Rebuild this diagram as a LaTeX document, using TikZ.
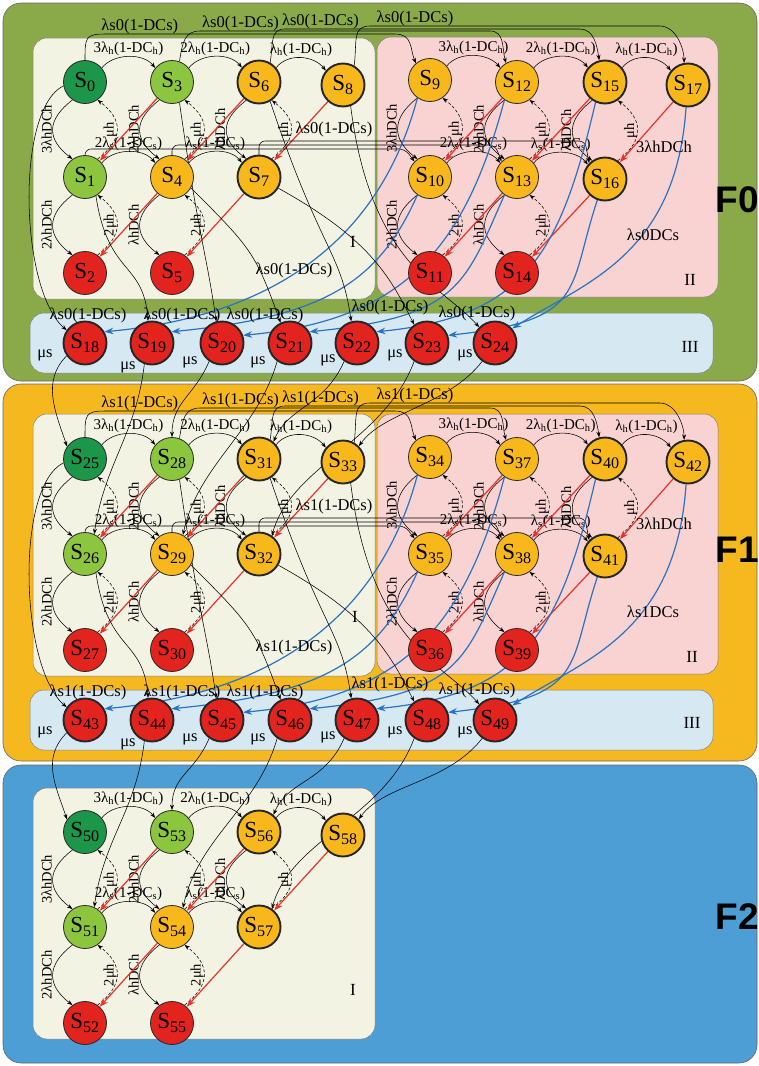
\documentclass[tikz,border=0pt]{standalone}
\usepackage{fontspec}
\setmainfont{Liberation Serif}
\newfontfamily\fsans{Liberation Sans}
\usetikzlibrary{arrows.meta}
\pgfdeclarelayer{bg}
\pgfdeclarelayer{edges}
\pgfsetlayers{bg,edges,main}
\definecolor{pgreen}{RGB}{138,170,74}
\definecolor{porange}{RGB}{245,184,30}
\definecolor{pblue}{RGB}{76,158,212}
\definecolor{bcream}{RGB}{243,243,228}
\definecolor{bpink}{RGB}{249,210,210}
\definecolor{blight}{RGB}{214,233,242}
\definecolor{ndg}{RGB}{28,150,72}
\definecolor{nlg}{RGB}{140,198,63}
\definecolor{nor}{RGB}{248,184,28}
\definecolor{nrd}{RGB}{226,35,30}
\definecolor{ered}{RGB}{235,50,40}
\definecolor{eblue}{RGB}{40,115,195}

\newcommand\setn[1]{%
 \edef\nA{\the\numexpr#1+0\relax}\edef\nB{\the\numexpr#1+1\relax}\edef\nC{\the\numexpr#1+2\relax}%
 \edef\nD{\the\numexpr#1+3\relax}\edef\nE{\the\numexpr#1+4\relax}\edef\nF{\the\numexpr#1+5\relax}%
 \edef\nG{\the\numexpr#1+6\relax}\edef\nH{\the\numexpr#1+7\relax}\edef\nI{\the\numexpr#1+8\relax}%
 \edef\nJ{\the\numexpr#1+9\relax}\edef\nK{\the\numexpr#1+10\relax}\edef\nL{\the\numexpr#1+11\relax}%
 \edef\nM{\the\numexpr#1+12\relax}\edef\nN{\the\numexpr#1+13\relax}\edef\nO{\the\numexpr#1+14\relax}%
 \edef\nP{\the\numexpr#1+15\relax}\edef\nQ{\the\numexpr#1+16\relax}\edef\nR{\the\numexpr#1+17\relax}%
 \edef\nS{\the\numexpr#1+18\relax}\edef\nT{\the\numexpr#1+19\relax}\edef\nU{\the\numexpr#1+20\relax}%
 \edef\nV{\the\numexpr#1+21\relax}\edef\nW{\the\numexpr#1+22\relax}\edef\nX{\the\numexpr#1+23\relax}%
 \edef\nY{\the\numexpr#1+24\relax}}
\newcommand\sett[1]{%
 \edef\tA{\the\numexpr#1+0\relax}\edef\tB{\the\numexpr#1+1\relax}\edef\tD{\the\numexpr#1+3\relax}%
 \edef\tE{\the\numexpr#1+4\relax}\edef\tG{\the\numexpr#1+6\relax}\edef\tH{\the\numexpr#1+7\relax}%
 \edef\tI{\the\numexpr#1+8\relax}}

\newcommand\boxInodes[2]{%
 \foreach \o/\xx/\yy/\sty in {0/85/82/sg,1/85/177/sl,2/85/273/sr,3/172/82/sl,4/172/177/so,5/172/273/sr,6/259/82/sot,7/259/177/sot,8/343/85/sot}{%
  \pgfmathtruncatemacro\kk{#1+\o}%
  \node[\sty] (s\kk) at (\xx,\yy+#2) {S\textsubscript{\kk}};}}
\newcommand\boxIInodes[2]{%
 \foreach \o/\xx/\yy/\sty in {9/430/80/so,10/430/177/so,11/430/273/sr,12/517/82/so,13/517/177/so,14/517/273/sr,15/605/82/sot,16/605/179/sot,17/688/85/sot}{%
  \pgfmathtruncatemacro\kk{#1+\o}%
  \node[\sty] (s\kk) at (\xx,\yy+#2) {S\textsubscript{\kk}};}}
\newcommand\rowIIInodes[2]{%
 \foreach \o/\xx in {18/85,19/152,20/222,21/290,22/357,23/427,24/495}{%
  \pgfmathtruncatemacro\kk{#1+\o}%
  \node[srt] (s\kk) at (\xx,343+#2) {S\textsubscript{\kk}};}}

\newcommand\vpair[4]{%
 \draw[arr] (#1.235) .. controls +(-26,20) and +(-26,-20) .. (#2.125) node[vlab,pos=.5]{#3};
 \draw[darr] (#2.55) .. controls +(26,-20) and +(26,20) .. (#1.305) node[vlab,pos=.5,inner sep=0pt]{#4};}

\newcommand\gridedges[9]{%
 \draw[arr] (#1.40) .. controls +(12,-15) and +(-12,-15) .. (#4.140) node[slab,pos=.5,above]{3λ\textsubscript{h}(1-DC\textsubscript{h})};
 \draw[arr] (#4.40) .. controls +(12,-15) and +(-12,-15) .. (#7.140) node[slab,pos=.5,above]{2λ\textsubscript{h}(1-DC\textsubscript{h})};
 \draw[arr] (#7.40) .. controls +(12,-15) and +(-12,-15) .. (#9.140) node[slab,pos=.5,above]{λ\textsubscript{h}(1-DC\textsubscript{h})};
 \draw[arr] (#2.40) .. controls +(12,-15) and +(-12,-15) .. (#5.140) node[slab,pos=.5,above]{2λ\textsubscript{s}(1-DC\textsubscript{s})};
 \draw[arr] (#5.40) .. controls +(12,-15) and +(-12,-15) .. (#8.140) node[slab,pos=.5,above]{λ\textsubscript{s}(1-DC\textsubscript{s})};
 \vpair{#1}{#2}{3λhDCh}{μh}
 \vpair{#2}{#3}{2λhDCh}{2μh}
 \vpair{#4}{#5}{2λhDCh}{μh}
 \vpair{#5}{#6}{λhDCh}{2μh}
 \vpair{#7}{#8}{λhDCh}{μh}
 \draw[rarr] (#4) -- (#2);
 \draw[rarr] (#7) -- (#5);
 \draw[rarr] (#9) -- (#8);
 \draw[rarr] (#5) -- (#3);
 \draw[rarr] (#8) -- (#6);}

\newcommand\fulledges[4]{%
 \setn{#1}\sett{#4}%
 \gridedges{s\nA}{s\nB}{s\nC}{s\nD}{s\nE}{s\nF}{s\nG}{s\nH}{s\nI}%
 \gridedges{s\nJ}{s\nK}{s\nL}{s\nM}{s\nN}{s\nO}{s\nP}{s\nQ}{s\nR}%
 \draw[arr] (s\nA.north) .. controls +(0,-22) and +(-20,0) .. (105,34+#2) -- (395,34+#2) node[lab,pos=.12,above=-1pt]{λs#3(1-DCs)} .. controls +(18,0) and +(-6,-14) .. (s\nJ.130);
 \draw[arr] (s\nD.70) .. controls +(3,-20) and +(-15,0) .. (200,31+#2) -- (490,31+#2) node[lab,pos=.14,above=-1pt]{λs#3(1-DCs)} .. controls +(15,0) and +(-4,-14) .. (s\nM.120);
 \draw[arr] (s\nG.60) .. controls +(3,-20) and +(-15,0) .. (285,29+#2) -- (580,29+#2) node[lab,pos=.12,above=-1pt]{λs#3(1-DCs)} .. controls +(14,0) and +(-2,-14) .. (s\nP.105);
 \draw[arr] (s\nI.60) .. controls +(3,-25) and +(-18,0) .. (370,26+#2) -- (660,26+#2) node[lab,pos=.155,above=-1pt]{λs#3(1-DCs)} .. controls +(16,0) and +(0,-14) .. (s\nR.100);
 \draw[arr,rounded corners=6pt] (s\nB.north) -- (85,149+#2) -- (405,149+#2) -- (s\nK.north west);
 \draw[arr,rounded corners=6pt] (s\nE.north) -- (172,145+#2) -- (495,145+#2) -- (s\nN.north west);
 \draw[arr,rounded corners=6pt] (s\nH.north) -- (259,141+#2) -- (585,141+#2) node[lab,pos=.23,above=3pt]{λs#3(1-DCs)} -- (s\nQ.north west);
 \draw[barr] (s\nJ.235) .. controls +(-40,150) and +(160,-15) .. (s\nS.30);
 \draw[barr] (s\nK.235) .. controls +(-40,90) and +(150,-15) .. (s\nT.30);
 \draw[barr] (s\nM.235) .. controls +(-40,150) and +(160,-15) .. (s\nU.20);
 \draw[barr] (s\nN.235) .. controls +(-40,90) and +(150,-15) .. (s\nV.30);
 \draw[barr] (s\nP.245) .. controls +(-35,150) and +(150,-15) .. (s\nW.30);
 \draw[barr] (s\nQ.250) .. controls +(-30,90) and +(140,-15) .. (s\nX.20);
 \draw[barr] (s\nR.265) .. controls +(-10,150) and +(70,-45) .. (s\nY.40);
 \draw[arr] (s\nA.190) .. controls (15,110+#2) and (20,290+#2) .. (s\nS.145);
 \draw[arr] (s\nB.300) .. controls +(12,80) and +(-5,-60) .. (s\nT.100);
 \draw[arr] (s\nD.290) .. controls +(20,140) and +(-10,-70) .. (s\nU.105);
 \draw[arr] (s\nE.330) .. controls +(60,60) and +(-25,-70) .. (s\nV.115);
 \draw[arr] (s\nG.300) .. controls +(50,150) and +(-10,-70) .. (s\nW.105);
 \draw[arr] (s\nH.330) .. controls +(90,50) and +(-25,-50) .. (s\nX.125);
 \draw[arr] (s\nI.290) .. controls +(20,160) and +(-35,-40) .. (s\nY.135);
 \foreach \lx/\ly in {88/315,182/315,265/315,390/307,477/313,294/270}{\node[lab] at (\lx,\ly+#2) {λs#3(1-DCs)};}
 \node[lab] at (653,235+#2) {λs#3DCs};
 \node[lab] at (664,147+#2) {3λhDCh};
 \foreach \mx/\my in {45/355,128/367,190/362,258/362,328/360,395/355,465/355}{\node[lab] at (\mx,\my+#2){μs};}
 \draw[arr] (s\nS.215) .. controls +(-25,25) and +(-12,-35) .. (s\tA.145);
 \draw[arr] (s\nT.250) .. controls +(-8,70) and +(10,-70) .. (s\tB.65);
 \draw[arr] (s\nU.235) .. controls +(-15,35) and +(0,-35) .. (s\tD.90);
 \draw[arr] (s\nV.235) .. controls +(-20,70) and +(15,-70) .. (s\tE.60);
 \draw[arr] (s\nW.235) .. controls +(-20,45) and +(15,-35) .. (s\tG.50);
 \draw[arr] (s\nX.235) .. controls +(-30,80) and +(20,-70) .. (s\tH.55);
 \draw[arr] (s\nY.235) .. controls +(-35,45) and +(25,-35) .. (s\tI.45);}

\begin{document}
\begin{tikzpicture}[x=1pt,y=-1pt,
 st/.style={circle, draw=black!85, line width=0.8pt, minimum size=43pt, inner sep=0pt, font=\fontsize{23}{24}\selectfont},
 sg/.style={st, fill=ndg}, sl/.style={st, fill=nlg}, so/.style={st, fill=nor}, sr/.style={st, fill=nrd},
 sot/.style={so, line width=1.9pt}, srt/.style={sr, line width=1.9pt},
 arr/.style={-{Stealth[length=5.5pt,width=4pt]}, line width=0.55pt, black},
 darr/.style={arr, densely dashed},
 rarr/.style={-{Stealth[length=9pt,width=6.5pt]}, line width=1.2pt, ered},
 barr/.style={-{Stealth[length=9pt,width=6.5pt]}, line width=1.2pt, eblue},
 lab/.style={font=\fontsize{16.5}{17}\selectfont, inner sep=1pt},
 slab/.style={font=\fontsize{15}{16}\selectfont, inner sep=1pt},
 vlab/.style={font=\fontsize{14.5}{15}\selectfont, inner sep=1pt, rotate=90, anchor=south},
 panel/.style={draw=black!60, line width=0.6pt, rounded corners=18pt},
 inbox/.style={draw=black!50, line width=0.5pt, rounded corners=14pt},
 roman/.style={font=\fontsize{17}{18}\selectfont},
 flab/.style={font=\fsans\bfseries\fontsize{37}{37}\selectfont}]
\useasboundingbox (0,0) rectangle (759,1066);
\begin{pgfonlayer}{bg}
 \fill[white] (0,0) rectangle (759,1066);
 \draw[panel, fill=pgreen] (3,3) rectangle (757,381);
 \draw[panel, fill=porange] (3,384) rectangle (757,761);
 \draw[panel, fill=pblue] (3,765) rectangle (757,1063);
 \draw[inbox, fill=bcream] (33,38) rectangle (375,299);
 \draw[inbox, fill=bpink] (377,37) rectangle (718,297);
 \draw[inbox, fill=blight] (30,313) rectangle (713,373);
 \draw[inbox, fill=bcream] (33,414) rectangle (375,676);
 \draw[inbox, fill=bpink] (377,414) rectangle (718,674);
 \draw[inbox, fill=blight] (30,690) rectangle (713,750);
 \draw[inbox, fill=bcream] (33,788) rectangle (375,1039);
 \node[roman] (r1) at (353,242) {I};
 \node[roman] (r2) at (690,280) {II};
 \node[roman] (r3) at (690,347) {III};
 \node[roman] (r4) at (355,617) {I};
 \node[roman] (r5) at (692,657) {II};
 \node[roman] (r6) at (692,723) {III};
 \node[roman] (r7) at (353,990) {I};
 \node[flab] (f0) at (737,200) {F0};
 \node[flab] (f1) at (737,550) {F1};
 \node[flab] (f2) at (737,917) {F2};
\end{pgfonlayer}
\boxInodes{0}{0}\boxIInodes{0}{0}\rowIIInodes{0}{0}
\boxInodes{25}{377}\boxIInodes{25}{377}\rowIIInodes{25}{377}
\boxInodes{50}{750}
\begin{pgfonlayer}{edges}
 \fulledges{0}{0}{0}{25}
 \fulledges{25}{377}{1}{50}
 \setn{50}
 \gridedges{s\nA}{s\nB}{s\nC}{s\nD}{s\nE}{s\nF}{s\nG}{s\nH}{s\nI}
\end{pgfonlayer}
\end{tikzpicture}
\end{document}
